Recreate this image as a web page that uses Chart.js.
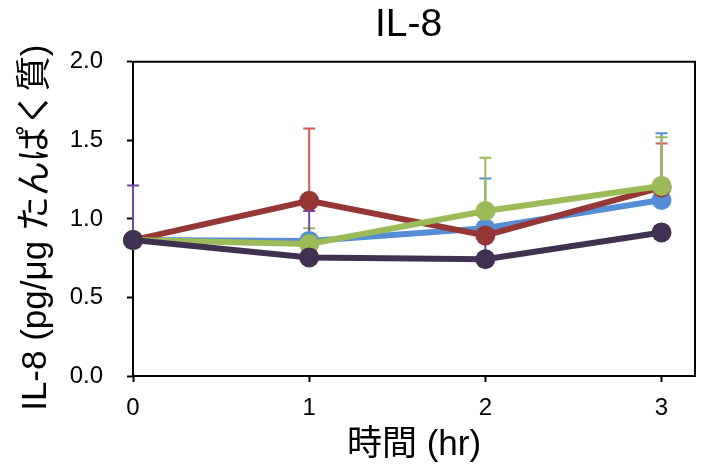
<!DOCTYPE html>
<html>
<head>
<meta charset="utf-8">
<script src="https://cdn.jsdelivr.net/npm/chart.js@4.4.1/dist/chart.umd.min.js"></script>
<style>
  html, body { margin: 0; padding: 0; background: #ffffff; }
  #wrap { width: 711px; height: 476px; }
</style>
</head>
<body>
<div id="wrap"><canvas id="c" width="711" height="476"></canvas></div>
<script>
// Time points (hours)
const hours = [0, 1, 2, 3];
const xTicks = [0, 1, 2, 3];
const yTicks = [0.0, 0.5, 1.0, 1.5, 2.0];

// Mean IL-8 per group (pg/μg protein)
const purpleMean = [0.865, 0.755, 0.743, 0.914];
const greenMean  = [0.865, 0.840, 1.050, 1.210];
const redMean    = [0.865, 1.115, 0.895, 1.200];
const blueMean   = [0.865, 0.860, 0.940, 1.120];

// Upper error (SD) per group
const purpleErr = [0.348, 0.295, 0.107, 0.040];
const greenErr  = [0.040, 0.100, 0.340, 0.310];
const redErr    = [0.040, 0.460, 0.040, 0.280];
const blueErr   = [0.040, 0.040, 0.317, 0.425];

const FONT = "'Liberation Sans', Arial, 'Noto Sans CJK JP', sans-serif";

function pts(vals) { return hours.map((h, i) => ({ x: h, y: vals[i] })); }

const groups = [
  { mean: purpleMean, err: purpleErr, color: '#403152', errColor: '#7448a6' },
  { mean: greenMean,  err: greenErr,  color: '#9bbb59', errColor: '#9bbb59' },
  { mean: redMean,    err: redErr,    color: '#953735', errColor: '#d05a58' },
  { mean: blueMean,   err: blueErr,   color: '#558ed5', errColor: '#558ed5' }
];

// Upward-only error bars with caps, drawn beneath the lines
const errorBars = {
  id: 'errorBars',
  beforeDatasetsDraw(chart) {
    const { ctx, scales: { x, y } } = chart;
    ctx.save();
    ctx.lineWidth = 2;
    for (let g = groups.length - 1; g >= 0; g--) {
      const grp = groups[g];
      ctx.strokeStyle = grp.errColor;
      hours.forEach((h, i) => {
        const px = x.getPixelForValue(h);
        const y0 = y.getPixelForValue(grp.mean[i]);
        const y1 = y.getPixelForValue(grp.mean[i] + grp.err[i]);
        ctx.beginPath();
        ctx.moveTo(px, y0);
        ctx.lineTo(px, y1);
        ctx.moveTo(px - 6, y1);
        ctx.lineTo(px + 6, y1);
        ctx.stroke();
      });
    }
    ctx.restore();
  }
};

// Closes the plot frame on the top and right sides
const frame = {
  id: 'frame',
  beforeDatasetsDraw(chart) {
    const { ctx, chartArea: a } = chart;
    ctx.save();
    ctx.strokeStyle = '#000';
    ctx.lineWidth = 2;
    ctx.beginPath();
    ctx.moveTo(a.left, a.top);
    ctx.lineTo(a.right, a.top);
    ctx.lineTo(a.right, a.bottom);
    ctx.stroke();
    ctx.restore();
  }
};

new Chart(document.getElementById('c'), {
  type: 'line',
  data: {
    datasets: groups.map(grp => ({
      data: pts(grp.mean),
      borderColor: grp.color,
      backgroundColor: grp.color,
      pointBackgroundColor: grp.color,
      pointBorderColor: grp.color,
      borderWidth: 6,
      pointRadius: 10,
      pointBorderWidth: 0,
      tension: 0,
      clip: false
    }))
  },
  options: {
    responsive: false,
    animation: false,
    layout: { padding: { left: 0, right: 16, top: 0, bottom: 0 } },
    plugins: {
      legend: { display: false },
      tooltip: { enabled: false },
      title: {
        display: true,
        fullSize: false,
        text: 'IL-8 ',
        color: '#000',
        font: { family: FONT, size: 39, weight: 'normal', lineHeight: 1.2 },
        padding: { top: 2, bottom: 13 }
      }
    },
    scales: {
      x: {
        type: 'linear',
        min: 0,
        max: 3.19,
        afterBuildTicks(s) { s.ticks = xTicks.map(v => ({ value: v })); },
        afterFit(s) { s.height = 100; },
        grid: { display: true, drawOnChartArea: false, drawTicks: true, tickLength: 6, tickColor: '#000', tickWidth: 2 },
        border: { display: true, color: '#000', width: 2 },
        ticks: {
          color: '#000',
          padding: 12,
          font: { family: FONT, size: 24 },
          callback: v => String(v)
        },
        title: {
          display: true,
          text: '時間 (hr)',
          color: '#000',
          font: { family: FONT, size: 35, lineHeight: 1 },
          padding: { top: 0, bottom: 13 }
        }
      },
      y: {
        type: 'linear',
        min: 0,
        max: 2,
        afterBuildTicks(s) { s.ticks = yTicks.map(v => ({ value: v })); },
        afterFit(s) { s.width = 133; },
        grid: { display: true, drawOnChartArea: false, drawTicks: true, tickLength: 6, tickColor: '#000', tickWidth: 2 },
        border: { display: true, color: '#000', width: 2 },
        ticks: {
          color: '#000',
          padding: 24,
          font: { family: FONT, size: 24 },
          callback: v => v.toFixed(1)
        },
        title: {
          display: true,
          text: 'IL-8 (pg/μg たんぱく質)\u2002',
          color: '#000',
          font: { family: FONT, size: 35, lineHeight: 1 },
          padding: { top: 19, bottom: 0 }
        }
      }
    }
  },
  plugins: [errorBars, frame]
});
</script>
</body>
</html>
